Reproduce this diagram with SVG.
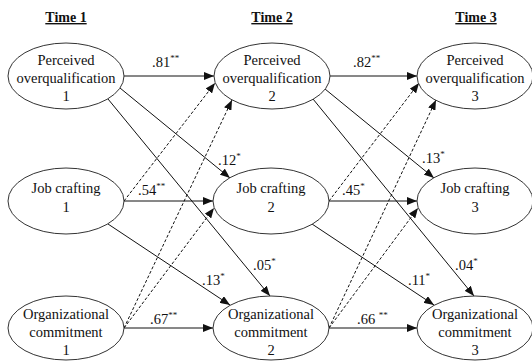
<svg xmlns="http://www.w3.org/2000/svg" width="532" height="362" viewBox="0 0 532 362">
<style>
  .node ellipse { fill: #ffffff; stroke: #333333; stroke-width: 1; }
  .node text { font-family: "Liberation Serif", "Times New Roman", serif; font-size: 14.5px; fill: #111111; text-anchor: middle; }
  .hdr { font-family: "Liberation Serif", "Times New Roman", serif; font-size: 14px; font-weight: bold; text-decoration: underline; text-anchor: middle; fill: #111111; }
  .solid { stroke: #111111; stroke-width: 1; fill: none; marker-end: url(#arr); }
  .dash { stroke: #111111; stroke-width: 1; fill: none; stroke-dasharray: 3 2; marker-end: url(#arr); }
  .lbl { font-family: "Liberation Serif", "Times New Roman", serif; font-size: 14.5px; fill: #111111; }
  .sup { font-size: 9px; }
</style>
<defs>
  <marker id="arr" viewBox="0 0 10 8" refX="10" refY="4" markerWidth="10" markerHeight="8" markerUnits="userSpaceOnUse" orient="auto">
    <path d="M0,0 L10,4 L0,8 Z" fill="#111111"/>
  </marker>
</defs>
<rect width="532" height="362" fill="#ffffff"/>

<text class="hdr" x="66" y="22">Time 1</text>
<text class="hdr" x="272" y="22">Time 2</text>
<text class="hdr" x="476" y="22">Time 3</text>

<g id="connectors">
  <!-- autoregressive -->
  <line class="solid" x1="124" y1="76" x2="214" y2="76"/>
  <line class="solid" x1="330" y1="76" x2="417" y2="76"/>
  <line class="solid" x1="124" y1="201" x2="213" y2="201"/>
  <line class="solid" x1="329" y1="201" x2="417" y2="201"/>
  <line class="solid" x1="124" y1="328" x2="213" y2="328"/>
  <line class="solid" x1="329" y1="328" x2="417" y2="328"/>
  <!-- cross-lagged solid -->
  <line class="solid" x1="120" y1="88" x2="230" y2="178"/>
  <line class="solid" x1="108" y1="99" x2="270" y2="296"/>
  <line class="solid" x1="108" y1="224" x2="230" y2="305"/>
  <line class="solid" x1="325" y1="89" x2="434" y2="178"/>
  <line class="solid" x1="313" y1="99" x2="474" y2="296"/>
  <line class="solid" x1="312" y1="224" x2="434" y2="305"/>
  <!-- cross-lagged dashed -->
  <line class="dash" x1="124" y1="201" x2="215" y2="83"/>
  <line class="dash" x1="124" y1="328" x2="232" y2="100"/>
  <line class="dash" x1="124" y1="328" x2="214" y2="208"/>
  <line class="dash" x1="329" y1="201" x2="419" y2="83"/>
  <line class="dash" x1="329" y1="328" x2="436" y2="100"/>
  <line class="dash" x1="329" y1="328" x2="418" y2="208"/>
</g>

<g id="labels">
  <text class="lbl" x="152" y="67">.81<tspan class="sup" dy="-6">**</tspan></text>
  <text class="lbl" x="353" y="67">.82<tspan class="sup" dy="-6">**</tspan></text>
  <text class="lbl" x="218" y="165">.12<tspan class="sup" dy="-6">*</tspan></text>
  <text class="lbl" x="138" y="195">.54<tspan class="sup" dy="-6">**</tspan></text>
  <text class="lbl" x="422" y="163">.13<tspan class="sup" dy="-6">*</tspan></text>
  <text class="lbl" x="342" y="195">.45<tspan class="sup" dy="-6">*</tspan></text>
  <text class="lbl" x="253" y="270">.05<tspan class="sup" dy="-6">*</tspan></text>
  <text class="lbl" x="202" y="285">.13<tspan class="sup" dy="-6">*</tspan></text>
  <text class="lbl" x="455" y="270">.04<tspan class="sup" dy="-6">*</tspan></text>
  <text class="lbl" x="408" y="285">.11<tspan class="sup" dy="-6">*</tspan></text>
  <text class="lbl" x="150" y="324">.67<tspan class="sup" dy="-6">**</tspan></text>
  <text class="lbl" x="357" y="324">.66 <tspan class="sup" dy="-6">**</tspan></text>
</g>

<g id="po1" class="node">
  <ellipse cx="66" cy="76" rx="58" ry="33"/>
  <text x="66" y="65">Perceived</text>
  <text x="66" y="83">overqualification</text>
  <text x="66" y="101">1</text>
</g>
<g id="po2" class="node">
  <ellipse cx="272" cy="76" rx="58" ry="33"/>
  <text x="272" y="65">Perceived</text>
  <text x="272" y="83">overqualification</text>
  <text x="272" y="101">2</text>
</g>
<g id="po3" class="node">
  <ellipse cx="475" cy="76" rx="58" ry="33"/>
  <text x="475" y="65">Perceived</text>
  <text x="475" y="83">overqualification</text>
  <text x="475" y="101">3</text>
</g>
<g id="jc1" class="node">
  <ellipse cx="66" cy="201" rx="58" ry="33"/>
  <text x="66" y="193">Job crafting</text>
  <text x="66" y="212">1</text>
</g>
<g id="jc2" class="node">
  <ellipse cx="271" cy="201" rx="58" ry="33"/>
  <text x="271" y="193">Job crafting</text>
  <text x="271" y="212">2</text>
</g>
<g id="jc3" class="node">
  <ellipse cx="475" cy="201" rx="58" ry="33"/>
  <text x="475" y="193">Job crafting</text>
  <text x="475" y="212">3</text>
</g>
<g id="oc1" class="node">
  <ellipse cx="66" cy="328" rx="58" ry="32"/>
  <text x="66" y="319">Organizational</text>
  <text x="66" y="337">commitment</text>
  <text x="66" y="355">1</text>
</g>
<g id="oc2" class="node">
  <ellipse cx="271" cy="328" rx="58" ry="32"/>
  <text x="271" y="319">Organizational</text>
  <text x="271" y="337">commitment</text>
  <text x="271" y="355">2</text>
</g>
<g id="oc3" class="node">
  <ellipse cx="475" cy="328" rx="58" ry="32"/>
  <text x="475" y="319">Organizational</text>
  <text x="475" y="337">commitment</text>
  <text x="475" y="355">3</text>
</g>
</svg>
